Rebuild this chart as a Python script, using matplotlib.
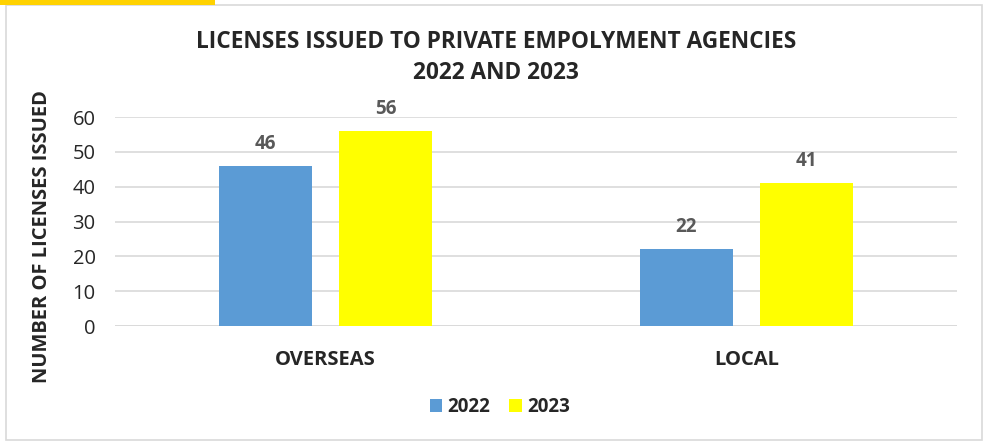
import matplotlib.pyplot as plt
import matplotlib.patches as mpatches
import numpy as np

plt.rcParams['font.family'] = ['Open Sans', 'DejaVu Sans']

# data
categories = ['OVERSEAS', 'LOCAL']
years = ['2022', '2023']
values_2022 = [46, 22]
values_2023 = [56, 41]
colors = ['#5B9BD5', '#FFFF00']

fig = plt.figure(figsize=(9.83, 4.41), dpi=100)

# outer border + yellow strip at top left
fig.patches.append(mpatches.Rectangle((6/983, 1/441), 976/983, 435/441, transform=fig.transFigure,
                                      fill=False, edgecolor='#D9D9D9', linewidth=1.2))
fig.patches.append(mpatches.Rectangle((0, 1-5/441), 215/983, 5/441, transform=fig.transFigure,
                                      facecolor='#FFD200', edgecolor='none'))

ax = fig.add_axes([115/983, 1-326/441, 842/983, 209/441])

x = np.arange(len(categories))
width = 0.223
offset = 0.1425
bars1 = ax.bar(x - offset, values_2022, width, color=colors[0], label=years[0], zorder=3)
bars2 = ax.bar(x + offset, values_2023, width, color=colors[1], label=years[1], zorder=3)

for bars in (bars1, bars2):
    for b in bars:
        ax.annotate(str(int(b.get_height())), (b.get_x() + b.get_width()/2, b.get_height()),
                    xytext=(0, 16), textcoords='offset points', ha='center', va='center',
                    fontsize=13.5, fontweight='bold', color='#595959')

ax.set_xlim(-0.5, 1.5)
ax.set_ylim(0, 60)
ax.set_yticks(range(0, 61, 10))
ax.yaxis.grid(True, color='#D9D9D9', linewidth=1.2, zorder=0)
ax.set_axisbelow(True)
for s in ax.spines.values():
    s.set_visible(False)
ax.axhline(0, color='#D9D9D9', linewidth=1.2, zorder=1)
ax.tick_params(axis='y', length=0, pad=14, labelsize=14.5, labelcolor='#262626')
ax.tick_params(axis='x', length=0, pad=17, labelsize=14.5, labelcolor='#262626')
ax.set_xticks(x)
ax.set_xticklabels(categories, fontweight='bold')

fig.text(42/983, 1-237/441, 'NUMBER OF LICENSES ISSUED', rotation=90, ha='center', va='center',
         fontsize=14.5, fontweight='bold', color='#262626')

fig.text(496/983, 1-42/441, 'LICENSES ISSUED TO PRIVATE EMPOLYMENT AGENCIES', ha='center', va='center',
         fontsize=16.3, fontweight='bold', color='#262626')
fig.text(496/983, 1-73/441, '2022 AND 2023', ha='center', va='center',
         fontsize=16.3, fontweight='bold', color='#262626')

leg = fig.legend(loc='center', bbox_to_anchor=(500/983, 1-407/441), ncol=2, frameon=False,
                 handlelength=0.65, handleheight=0.65, handletextpad=0.3, columnspacing=1.0,
                 prop={'weight': 'bold', 'size': 13.5})
for t in leg.get_texts():
    t.set_color('#262626')

fig.savefig('out.png', dpi=100)
